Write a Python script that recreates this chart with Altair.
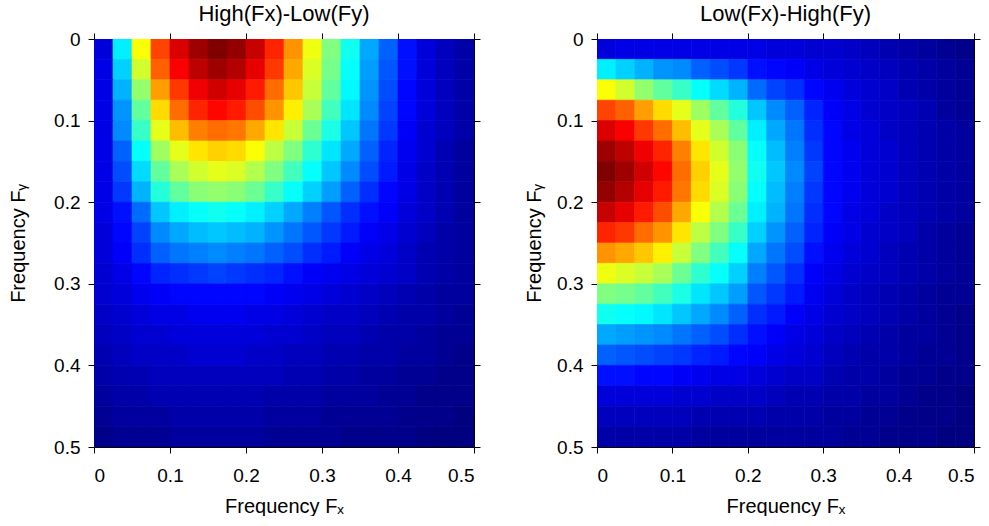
import altair as alt
import pandas as pd

# ---------------- data ----------------
# cell edges of the sampled frequency grid (both axes)
freq_edges = [0.0, 0.025, 0.05, 0.075, 0.1, 0.125, 0.15, 0.175, 0.2, 0.225, 0.25,
              0.275, 0.3, 0.325, 0.35, 0.375, 0.4, 0.425, 0.45, 0.475, 0.5]
tick_values = [0, 0.1, 0.2, 0.3, 0.4, 0.5]
panel_titles = ["High(Fx)-Low(Fy)", "Low(Fx)-High(Fy)"]

# jet colormap (value in percent of maximum)
jet_stops = [0, 12.5, 25, 37.5, 50, 62.5, 75, 87.5, 100]
jet_colors = ["#000080", "#0000ff", "#0080ff", "#00ffff", "#80ff80",
              "#ffff00", "#ff8000", "#ff0000", "#800000"]

# High(Fx)-Low(Fy): rows = Fy (top -> bottom), columns = Fx (left -> right), % of max
high_low = [
    [9, 36, 62, 81, 91, 97, 100, 98, 93, 84, 73, 61, 50, 39, 29, 22, 14, 9, 6, 4],
    [10, 33, 58, 78, 88, 94, 97, 95, 90, 82, 71, 59, 49, 38, 28, 21, 14, 9, 6, 4],
    [10, 30, 52, 72, 82, 89, 92, 90, 85, 77, 68, 57, 47, 37, 27, 20, 13, 9, 6, 4],
    [10, 27, 47, 66, 77, 84, 87, 85, 80, 73, 64, 54, 44, 35, 26, 19, 13, 9, 6, 4],
    [10, 26, 43, 60, 69, 75, 77, 76, 71, 65, 57, 48, 40, 32, 24, 18, 12, 8, 6, 4],
    [10, 22, 38, 53, 60, 65, 67, 66, 62, 56, 50, 42, 35, 29, 22, 16, 11, 8, 5, 3],
    [10, 20, 34, 47, 54, 58, 60, 59, 55, 50, 44, 38, 32, 26, 20, 15, 10, 7, 5, 3],
    [10, 18, 30, 41, 47, 51, 52, 51, 48, 43, 38, 33, 28, 22, 17, 13, 10, 7, 5, 3],
    [10, 14, 23, 32, 36, 38, 39, 38, 36, 33, 29, 25, 21, 17, 14, 12, 9, 7, 5, 3],
    [9, 13, 19, 26, 29, 31, 32, 31, 30, 27, 24, 21, 18, 15, 12, 10, 8, 6, 4, 3],
    [9, 12, 17, 22, 24, 25, 26, 25, 24, 22, 20, 17, 15, 12, 10, 9, 7, 5, 4, 3],
    [8, 10, 13, 16, 17, 18, 19, 18, 17, 16, 14, 12, 11, 10, 9, 8, 7, 5, 4, 3],
    [8, 9, 11, 12, 13, 13, 13, 13, 13, 12, 11, 10, 9, 8, 7, 6, 5, 4, 3, 3],
    [7, 8, 9, 10, 10, 11, 11, 11, 10, 10, 9, 8, 7, 7, 6, 5, 4, 4, 3, 2],
    [6, 7, 8, 8, 9, 9, 9, 9, 9, 8, 8, 7, 6, 6, 5, 4, 4, 3, 2, 2],
    [5, 6, 7, 7, 7, 8, 8, 8, 7, 7, 6, 6, 5, 5, 4, 4, 3, 3, 2, 1],
    [4, 5, 5, 6, 6, 6, 6, 6, 6, 6, 5, 5, 4, 4, 3, 3, 2, 2, 1, 1],
    [3, 4, 4, 5, 5, 5, 5, 5, 5, 4, 4, 4, 3, 3, 3, 2, 2, 1, 1, 1],
    [2, 3, 3, 3, 4, 4, 4, 4, 4, 3, 3, 3, 2, 2, 2, 2, 1, 1, 1, 0],
    [1, 2, 2, 2, 3, 3, 3, 3, 3, 2, 2, 2, 2, 1, 1, 1, 1, 0, 0, 0],
]
# Low(Fx)-High(Fy) is the same filter with the axes swapped
low_high = [list(col) for col in zip(*high_low)]

FONT = "Liberation Sans"


def to_frame(grid):
    recs = []
    for j, row in enumerate(grid):
        for i, v in enumerate(row):
            recs.append({"fx0": freq_edges[i], "fx1": freq_edges[i + 1],
                         "fy0": freq_edges[j], "fy1": freq_edges[j + 1], "v": v})
    return pd.DataFrame(recs)


def panel(grid, title, width, title_pad):
    df = to_frame(grid)
    xs = alt.Scale(domain=[0, 0.5], nice=False, zero=False)
    ys = alt.Scale(domain=[0, 0.5], nice=False, zero=False, reverse=True)
    cs = alt.Scale(domain=jet_stops, range=jet_colors, interpolate="rgb")
    base = alt.Chart(df)
    heat = base.mark_rect(strokeWidth=0.7, clip=True).encode(
        x=alt.X("fx0:Q", scale=xs,
                axis=alt.Axis(values=tick_values, format="~g", title="Frequency F\u2093",
                              titlePadding=11, labelPadding=13)),
        x2="fx1:Q",
        y=alt.Y("fy0:Q", scale=ys,
                axis=alt.Axis(values=tick_values, format="~g", title="Frequency F\u1d67",
                              titlePadding=title_pad)),
        y2="fy1:Q",
        color=alt.Color("v:Q", scale=cs, legend=None),
        stroke=alt.Stroke("v:Q", scale=cs, legend=None),
    )
    frame = base.mark_rect(opacity=0).encode(
        x=alt.X("fx0:Q", scale=xs, title=None,
                axis=alt.Axis(orient="top", values=tick_values, labels=False)),
        x2="fx1:Q",
        y=alt.Y("fy0:Q", scale=ys, title=None,
                axis=alt.Axis(orient="right", values=tick_values, labels=False)),
        y2="fy1:Q",
    )
    return alt.layer(heat, frame).resolve_axis(x="independent", y="independent").properties(
        width=width, height=408,
        title=alt.TitleParams(title, font=FONT, fontSize=22, fontWeight="normal",
                              color="black", anchor="middle", offset=4),
    )


left = panel(high_low, panel_titles[0], 380, 25)
right = panel(low_high, panel_titles[1], 377, 12)

chart = alt.hconcat(left, right, spacing=43).properties(
    padding={"left": 8, "top": 3, "right": 5, "bottom": 0},
    background="white",
).configure_view(stroke=None).configure_axis(
    grid=False,
    domainColor="black", domainWidth=1,
    tickColor="black", tickWidth=1, tickSize=6,
    labelColor="black", labelFont=FONT, labelFontSize=19, labelPadding=8,
    titleColor="black", titleFont=FONT, titleFontSize=20, titleFontWeight="normal",
)

chart.save("out.html", embed_options={"renderer": "svg", "actions": False})
